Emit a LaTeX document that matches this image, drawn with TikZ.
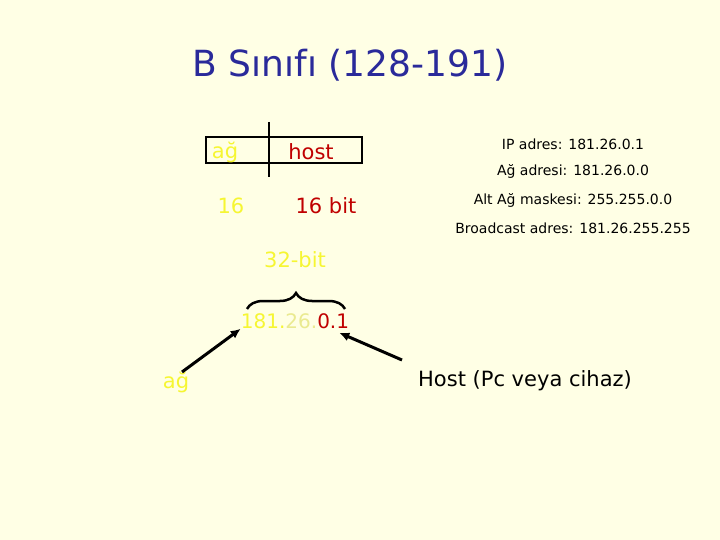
\documentclass[tikz,border=0pt]{standalone}
\usepackage{fontspec}
\setmainfont{DejaVu Sans}
\usetikzlibrary{decorations.pathreplacing,arrows.meta}
\definecolor{bg}{HTML}{FFFFE5}
\definecolor{ttl}{HTML}{2A2A9A}
\definecolor{yel}{HTML}{F6F632}
\definecolor{yel2}{HTML}{EAEA90}
\definecolor{rd}{HTML}{C00000}
\begin{document}
\begin{tikzpicture}[x=1pt,y=-1pt,
  txt/.style={inner sep=0pt,anchor=center},
  arr/.style={line width=3pt,-{Latex[length=10pt,width=9pt]}}]
\fill[bg] (0,0) rectangle (720,540);
\useasboundingbox (0,0) rectangle (720,540);
\node[txt,text=ttl,font=\fontsize{36}{40}\selectfont] (title) at (350,65) {B Sınıfı (128-191)};
\draw[line width=2pt] (206,137) rectangle (362,163);
\draw[line width=2pt] (269,122) -- (269,177);
\node[txt,text=yel,font=\fontsize{21}{24}\selectfont] (ag1) at (225,152) {ağ};
\node[txt,text=rd,font=\fontsize{21}{24}\selectfont] (host) at (311,152) {host};
\node[txt,text=yel,font=\fontsize{21}{24}\selectfont] (n16) at (231,206) {16};
\node[txt,text=rd,font=\fontsize{21}{24}\selectfont] (b16) at (326,206) {16 bit};
\node[txt,text=yel,font=\fontsize{21}{24}\selectfont] (b32) at (295,260) {32-bit};
\node[txt,font=\fontsize{20}{24}\selectfont] (ip) at (295,321) {\textcolor{yel}{181.}\textcolor{yel2}{26.}\textcolor{rd}{0.1}};
\draw[line width=2.5pt,decorate,decoration={brace,amplitude=16pt}] (247,309) -- (345,309);
\node[txt,text=yel,font=\fontsize{21}{24}\selectfont] (ag2) at (176,382) {ağ};
\node[txt,font=\fontsize{21}{24}\selectfont] (hst) at (525,381) {Host (Pc veya cihaz)};
\draw[arr] (182,372) -- (ip.south west);
\draw[arr] (402,360) -- ([xshift=-10pt,yshift=-4pt]ip.south east);
\begin{scope}[every node/.style={txt,font=\fontsize{14}{16}\selectfont}]
\node (r1) at (573,144) {IP adres: 181.26.0.1};
\node (r2) at (573,171) {Ağ adresi: 181.26.0.0};
\node (r3) at (573,200) {Alt Ağ maskesi: 255.255.0.0};
\node (r4) at (573,228) {Broadcast adres: 181.26.255.255};
\end{scope}
\end{tikzpicture}
\end{document}
